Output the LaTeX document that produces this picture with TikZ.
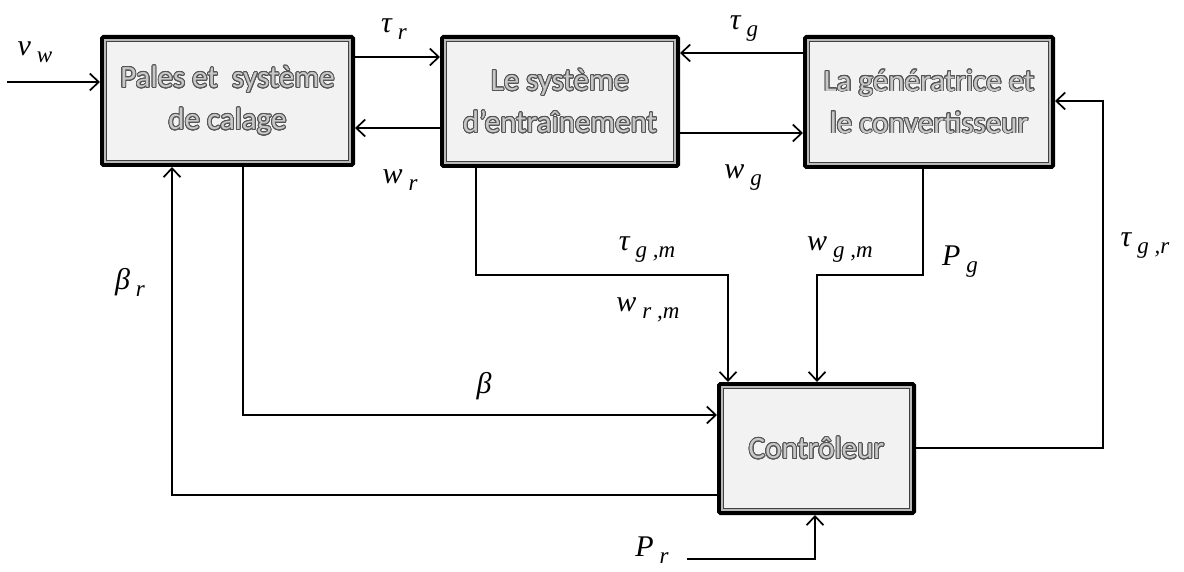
\documentclass[tikz,border=0pt]{standalone}
\usepackage{fontspec}
\setmainfont{Carlito}
\newfontfamily\lbf{Liberation Serif}
\usepackage{contour}
\contourlength{0.9pt}
\contournumber{24}
\usetikzlibrary{arrows.meta,calc}
\definecolor{boxfill}{RGB}{242,242,242}
\definecolor{txtfill}{RGB}{200,200,200}
\definecolor{txtline}{RGB}{85,85,85}
\newcommand{\ct}[1]{\contour{txtline}{\textcolor{txtfill}{#1}}}
\newcommand{\lb}[2]{{\lbf\itshape\fontsize{30}{32}\selectfont #1\hspace{6pt}\raisebox{-7pt}{\fontsize{23}{23}\selectfont #2}}}
\newcommand{\dblframe}[1]{%
  \draw[gray!55, line width=2pt] ($(#1.north west)+(5,5)$) rectangle ($(#1.south east)+(-5,-5)$);
  \draw[black!75, line width=1.1pt] ($(#1.north west)+(6.6,6.6)$) rectangle ($(#1.south east)+(-6.6,-6.6)$);}
\begin{document}
\begin{tikzpicture}[x=1pt,y=-1pt,
  blk/.style={draw=black, line width=4pt, fill=boxfill, rounded corners=1.5pt,
    inner sep=0pt, align=center, font=\fontsize{31}{42}\selectfont},
  arr/.style={line width=1.7pt, -{Straight Barb[length=9pt,width=17pt,line width=1.7pt]}},
  lab/.style={inner sep=0pt}]
\useasboundingbox (0,0) rectangle (1184,572);

\node[blk, minimum width=251pt, minimum height=128pt] (b1) at (227.5,101) {\ct{Pales et~ système}\\\ct{de calage}};
\dblframe{b1}
\node[blk, minimum width=236pt, minimum height=129pt] (b2) at (560,101.5) {\ct{Le système}\\\ct{d’entraînement}};
\dblframe{b2}
\node[blk, minimum width=248pt, minimum height=130pt] (b3) at (929,102) {\ct{La génératrice et}\\\ct{le convertisseur}};
\dblframe{b3}
\node[blk, minimum width=195pt, minimum height=129pt] (c) at (816.5,448.5) {\ct{Contrôleur}};
\dblframe{c}

\coordinate (vin) at (7,82);
\coordinate (prin) at (687,559);

% top connectors
\draw[arr] (vin) -- (vin -| b1.west);
\draw[arr] (b1.east |- 0,57) -- (b2.west |- 0,57);
\draw[arr] (b2.west |- 0,128) -- (b1.east |- 0,128);
\draw[arr] (b3.west |- 0,53) -- (b2.east |- 0,53);
\draw[arr] (b2.east |- 0,133) -- (b3.west |- 0,133);

% measurements to controller
\draw[arr] (b2.south -| 476,0) |- (728,275) -- (c.north -| 728,0);
\draw[arr] (b3.south -| 923,0) |- (817,275) -- (c.north -| 817,0);

% beta
\draw[arr] (b1.south -| 243,0) |- (c.west |- 0,415);
% beta_r
\draw[arr] (c.west |- 0,495) -| (b1.south -| 172,0);
% P_r
\draw[arr] (prin) -| (c.south -| 815,0);
% tau_g,r
\draw[arr] (c.east |- 0,448) -| (1103,101) -- (b3.east |- 0,101);

% labels
\node[lab] (lvw) at (35,52) {\lb{v}{w}};
\node[lab] (ltr) at (394,29) {\lb{τ}{r}};
\node[lab] (lwr) at (400,180) {\lb{w}{r}};
\node[lab] (ltg) at (744,29) {\lb{τ}{g}};
\node[lab] (lwg) at (743,178) {\lb{w}{g}};
\node[lab] (ltgm) at (647,250) {\lb{τ}{g ,m}};
\node[lab] (lwrm) at (648,310) {\lb{w}{r ,m}};
\node[lab] (lwgm) at (840,250) {\lb{w}{g ,m}};
\node[lab] (lpg) at (960,262) {\lb{P}{g}};
\node[lab] (ltgr) at (1145,246) {\lb{τ}{g  ,r}};
\node[lab] (lb) at (484,386) {{\lbf\itshape\fontsize{30}{32}\selectfont β}};
\node[lab] (lbr) at (130,282) {\lb{β}{r}};
\node[lab] (lpr) at (652,550) {\lb{P}{r}};
\end{tikzpicture}
\end{document}
